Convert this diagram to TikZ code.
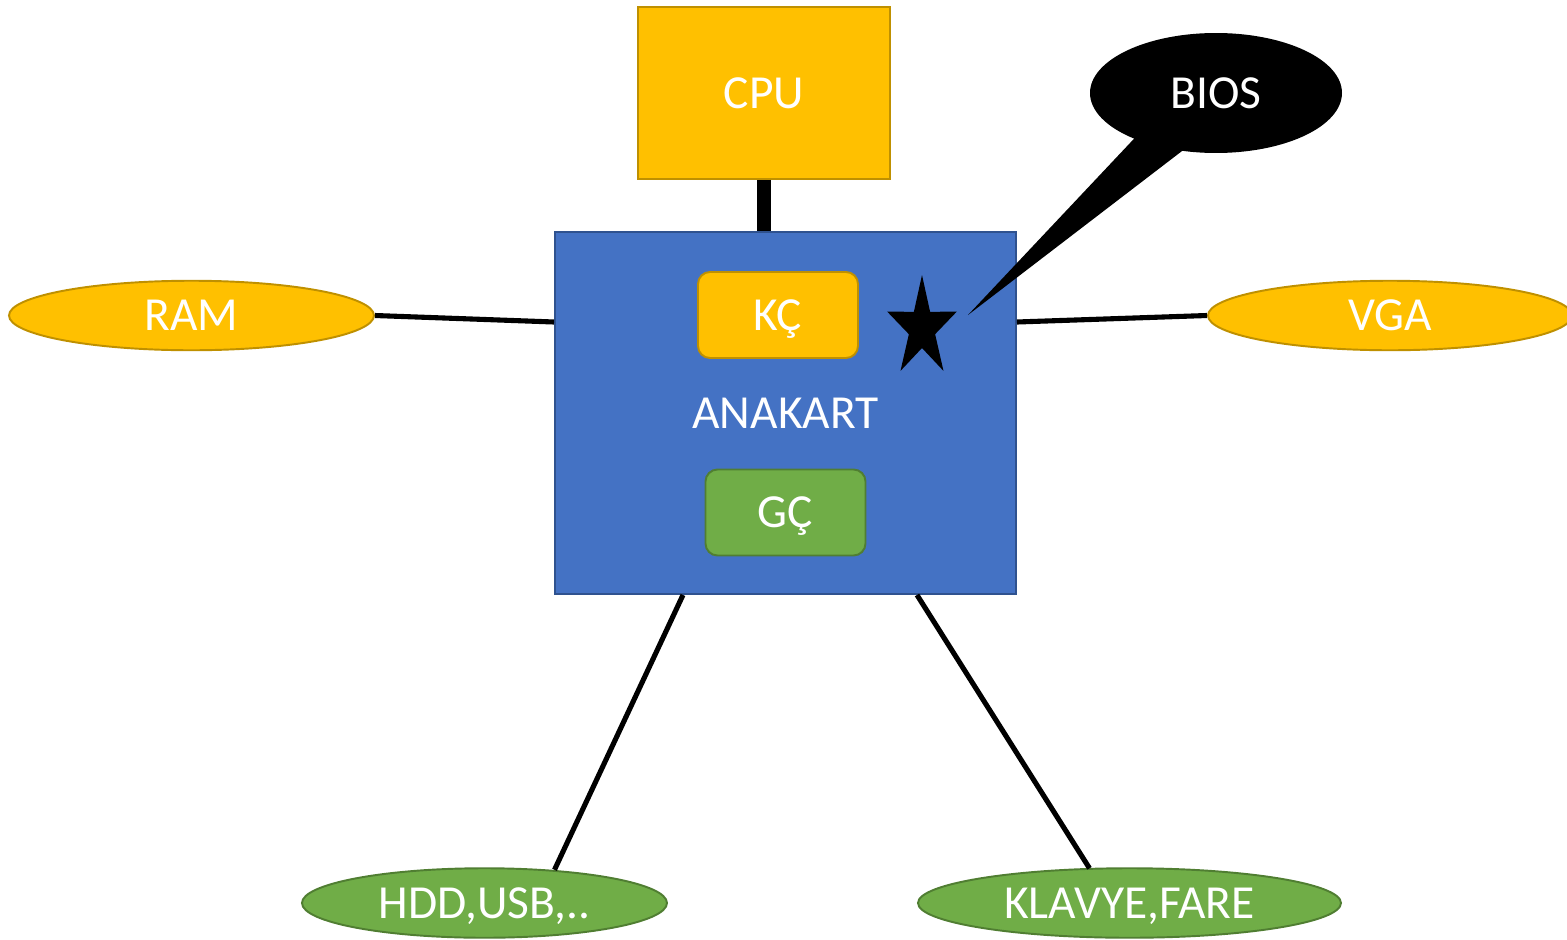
\documentclass[tikz,border=0pt]{standalone}
\usepackage{fontspec}
\setmainfont{Carlito}
\usetikzlibrary{positioning}
\usetikzlibrary{shapes.geometric}
\usetikzlibrary{shapes.callouts}
\definecolor{gold}{HTML}{FFC000}
\definecolor{goldline}{HTML}{BF9000}
\definecolor{board}{HTML}{4472C4}
\definecolor{boardline}{HTML}{2F528F}
\definecolor{leaf}{HTML}{70AD47}
\definecolor{leafline}{HTML}{507E32}
\tikzset{
  every node/.style={text=white, font=\fontsize{27}{32}\selectfont, text height=21.6pt, text depth=4.2pt},
  goldbox/.style={draw=goldline, fill=gold, line width=1.1pt},
  greenbox/.style={draw=leafline, fill=leaf, line width=1.1pt},
  port/.style={ellipse, inner sep=0pt, minimum height=1.39cm, line width=1.1pt},
  bus/.style={line width=2.9pt}
}

\begin{document}
\begin{tikzpicture}
        \useasboundingbox (-15.71,-10.52) rectangle (15.63,8.26);
        \node [draw=boardline, fill=board, line width=1.1pt, minimum width=9.22cm, minimum height=7.24cm] (Ana) at (0,0) {ANAKART};
        \node [on grid, above left=6.4cm and 0.43cm of Ana, goldbox, minimum width=5.04cm, minimum height=3.44cm] (CPU) {CPU};
        \node [on grid, above left=1.96cm and 0.15cm of Ana, goldbox, rounded corners=0.24cm, minimum width=3.2cm, minimum height=1.72cm] (KC) {KÇ};
        \node [on grid, below=1.99cm of Ana, greenbox, rounded corners=0.24cm, minimum width=3.2cm, minimum height=1.72cm] (GC) {GÇ};
        \node [on grid, above left=1.95cm and 11.88cm of Ana, port, goldbox, minimum width=7.3cm] (RAM) {RAM};
        \node [on grid, above right=1.95cm and 12.09cm of Ana, port, goldbox, minimum width=7.28cm] (VGA) {VGA};
        \node [on grid, below left=9.8cm and 6.02cm of Ana, port, greenbox, minimum width=7.3cm] (HDD) {HDD,USB,..};
        \node [on grid, below right=9.8cm and 6.88cm of Ana, port, greenbox, minimum width=8.46cm] (KF) {KLAVYE,FARE};

        \fill [shift={(2.73,1.70)}, xscale=0.69] (90:1.06) \foreach \a in {90,162,234,306,378} { -- (\a+36:0.40) -- (\a+72:1.06)} -- cycle;
        \coordinate (Tip) at (3.65,1.96);
        \node [on grid, above right=6.4cm and 8.61cm of Ana, ellipse callout, callout absolute pointer={(Tip)}, callout pointer arc=25, fill=black, inner sep=0pt, minimum width=5.04cm, minimum height=2.4cm] (BIOS) {BIOS};

        \draw [line width=8.5pt] (CPU.south) -- (CPU.south |- Ana.north);
        \draw [bus] (RAM.east) -- ([yshift=1.82cm]Ana.west);
        \draw [bus] ([yshift=1.82cm]Ana.east) -- (VGA.west);
        \draw [bus] ([xshift=-2.05cm]Ana.south) -- ([xshift=1.4cm,yshift=-0.05cm]HDD.north);
        \draw [bus] ([xshift=2.63cm]Ana.south) -- ([xshift=-0.8cm,yshift=-0.02cm]KF.north);
      \end{tikzpicture}
\end{document}
